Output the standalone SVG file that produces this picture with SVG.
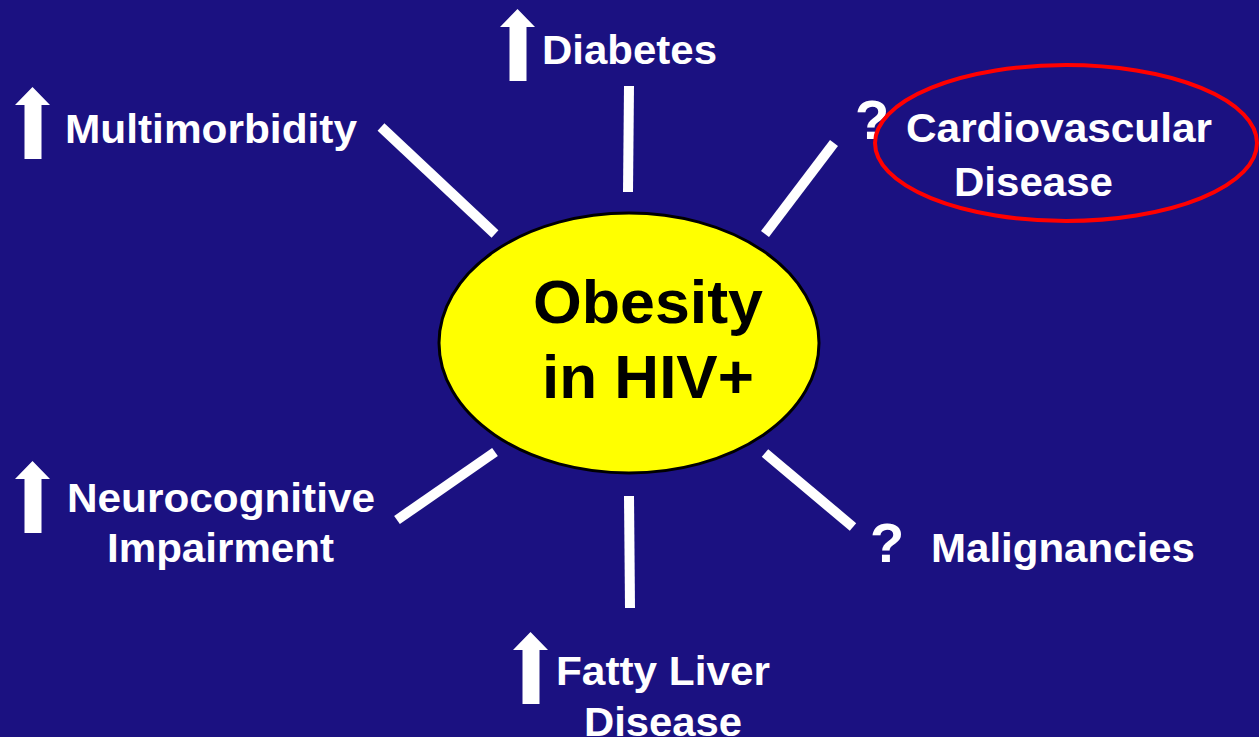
<svg xmlns="http://www.w3.org/2000/svg" width="1259" height="737" viewBox="0 0 1259 737">
  <defs>
    <style>
      .lbl { font-family: "Liberation Sans", Arial, sans-serif; font-weight: bold; font-size: 41px; fill: #FFFFFF; }
      .q { font-family: "Liberation Sans", Arial, sans-serif; font-weight: bold; font-size: 56px; fill: #FFFFFF; }
      .core { font-family: "Liberation Sans", Arial, sans-serif; font-weight: bold; font-size: 62px; fill: #000000; text-anchor: middle; }
      .spoke { stroke: #FFFFFF; stroke-width: 10; fill: none; }
      .up { fill: #FFFFFF; }
    </style>
    <!-- upward arrow, tip at origin -->
    <path id="upArrow" class="up" d="M0,0 L17.5,18 L9,18 L9,72 L-8,72 L-8,18 L-17.5,18 Z"/>
  </defs>

  <rect width="1259" height="737" fill="#1B1181"/>

  <!-- spokes -->
  <g id="connectors">
    <line class="spoke" x1="381" y1="127" x2="495" y2="234"/>
    <line class="spoke" x1="629" y1="86" x2="628" y2="192"/>
    <line class="spoke" x1="834" y1="143" x2="765" y2="234"/>
    <line class="spoke" x1="397" y1="520" x2="495" y2="452"/>
    <line class="spoke" x1="629" y1="496" x2="630" y2="608"/>
    <line class="spoke" x1="765" y1="453" x2="853" y2="527"/>
  </g>

  <g id="center">
    <ellipse cx="629" cy="343" rx="190" ry="130" fill="#FFFF00" stroke="#000000" stroke-width="3"/>
    <text class="core" x="648" y="323" textLength="230" lengthAdjust="spacingAndGlyphs">Obesity</text>
    <text class="core" x="648" y="398">in HIV+</text>
  </g>

  <g id="multimorbidity">
    <use href="#upArrow" x="32.5" y="87"/>
    <text class="lbl" x="65" y="143" textLength="292" lengthAdjust="spacingAndGlyphs">Multimorbidity</text>
  </g>

  <g id="diabetes">
    <use href="#upArrow" x="517.5" y="9"/>
    <text class="lbl" x="542" y="64" textLength="175" lengthAdjust="spacingAndGlyphs">Diabetes</text>
  </g>

  <g id="cardiovascular">
    <text class="q" x="855" y="139">?</text>
    <ellipse cx="1066" cy="143" rx="191" ry="78" fill="none" stroke="#FF0000" stroke-width="4"/>
    <text class="lbl" x="906" y="142" textLength="306" lengthAdjust="spacingAndGlyphs">Cardiovascular</text>
    <text class="lbl" x="954" y="196" textLength="159" lengthAdjust="spacingAndGlyphs">Disease</text>
  </g>

  <g id="neurocognitive">
    <use href="#upArrow" x="32.5" y="461"/>
    <text class="lbl" x="67" y="512" textLength="308" lengthAdjust="spacingAndGlyphs">Neurocognitive</text>
    <text class="lbl" x="107" y="562" textLength="227" lengthAdjust="spacingAndGlyphs">Impairment</text>
  </g>

  <g id="fattyLiver">
    <use href="#upArrow" x="530.5" y="632"/>
    <text class="lbl" x="556" y="685" textLength="214" lengthAdjust="spacingAndGlyphs">Fatty Liver</text>
    <text class="lbl" x="584" y="736" textLength="158" lengthAdjust="spacingAndGlyphs">Disease</text>
  </g>

  <g id="malignancies">
    <text class="q" x="870" y="562">?</text>
    <text class="lbl" x="931" y="562" textLength="264" lengthAdjust="spacingAndGlyphs">Malignancies</text>
  </g>
</svg>
